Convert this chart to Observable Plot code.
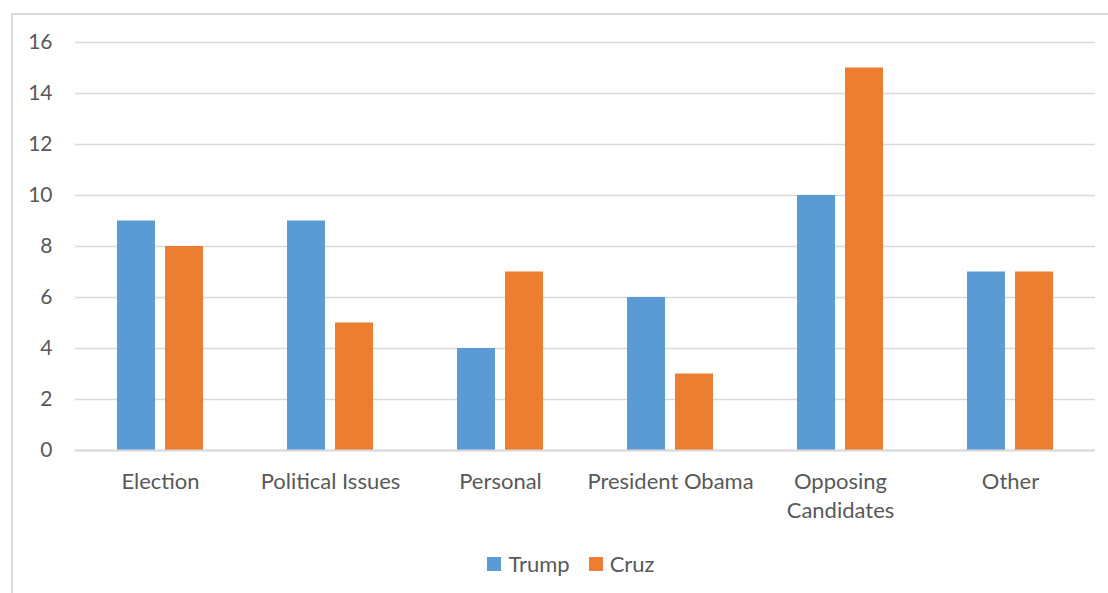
<!DOCTYPE html>
<html>
<head>
<meta charset="utf-8">
<script src="https://cdn.jsdelivr.net/npm/d3@7"></script>
<script src="https://cdn.jsdelivr.net/npm/@observablehq/plot@0.6"></script>
<style>
  html, body { margin: 0; padding: 0; background: #fff; width: 1108px; height: 593px; overflow: hidden; font-family: Lato, "Open Sans", sans-serif; }
  #frame { position: absolute; left: 11px; top: 13px; width: 1110px; height: 600px; border-left: 2px solid #d9d9d9; border-top: 2px solid #d9d9d9; box-sizing: border-box; }
  #chart { position: absolute; left: 0; top: 0; }
  #legend { position: absolute; top: 550px; left: 0; width: 1142px; display: flex; justify-content: center; gap: 19px; font-size: 22px; color: #595959; }
  .item { display: flex; align-items: center; gap: 7px; }
  .sw { width: 14px; height: 14px; display: inline-block; }
</style>
</head>
<body>
<div id="frame"></div>
<div id="chart"></div>
<div id="legend"></div>
<script>
const categories = ["Election", "Political Issues", "Personal", "President Obama", "Opposing\nCandidates", "Other"];
const series = ["Trump", "Cruz"];
const trump = [9, 9, 4, 6, 10, 7];
const cruz = [8, 5, 7, 3, 15, 7];
const colors = ["#5B9BD5", "#ED7D31"];
const yTicks = [0, 2, 4, 6, 8, 10, 12, 14, 16];

const data = [];
categories.forEach((c, i) => {
  data.push({category: c, series: "Trump", value: trump[i]});
  data.push({category: c, series: "Cruz", value: cruz[i]});
});

const chart = Plot.plot({
  width: 1108,
  height: 530,
  marginLeft: 75,
  marginRight: 13,
  marginTop: 42,
  marginBottom: 80,
  style: {fontFamily: "Lato, 'Open Sans', sans-serif", fontSize: "21px", color: "#595959", background: "transparent"},
  fx: {domain: categories, padding: 0, axis: null},
  x: {domain: series, paddingInner: 0.208, paddingOuter: 0.874, axis: null},
  y: {domain: [0, 16], ticks: yTicks, axis: null},
  color: {domain: series, range: colors},
  marks: [
    Plot.gridY(yTicks, {stroke: "#d9d9d9", strokeOpacity: 1, strokeWidth: 1.5}),
    Plot.axisY({facetAnchor: "left", ticks: yTicks, tickSize: 0, tickPadding: 23, fontSize: 21, fill: "#595959", label: null}),
    Plot.barY(data, {fx: "category", x: "series", y: "value", fill: "series"}),
    Plot.ruleY([0], {stroke: "#d9d9d9", strokeWidth: 2}),
    Plot.text(categories, {fx: d => d, text: d => d, frameAnchor: "bottom", lineAnchor: "top", dy: 18, lineHeight: 1.32, fontSize: 22, fill: "#595959"})
  ]
});
document.getElementById("chart").appendChild(chart);

const legend = document.getElementById("legend");
series.forEach((s, i) => {
  const item = document.createElement("span");
  item.className = "item";
  const sw = document.createElement("span");
  sw.className = "sw";
  sw.style.background = colors[i];
  item.appendChild(sw);
  item.appendChild(document.createTextNode(s));
  legend.appendChild(item);
});
</script>
</body>
</html>
